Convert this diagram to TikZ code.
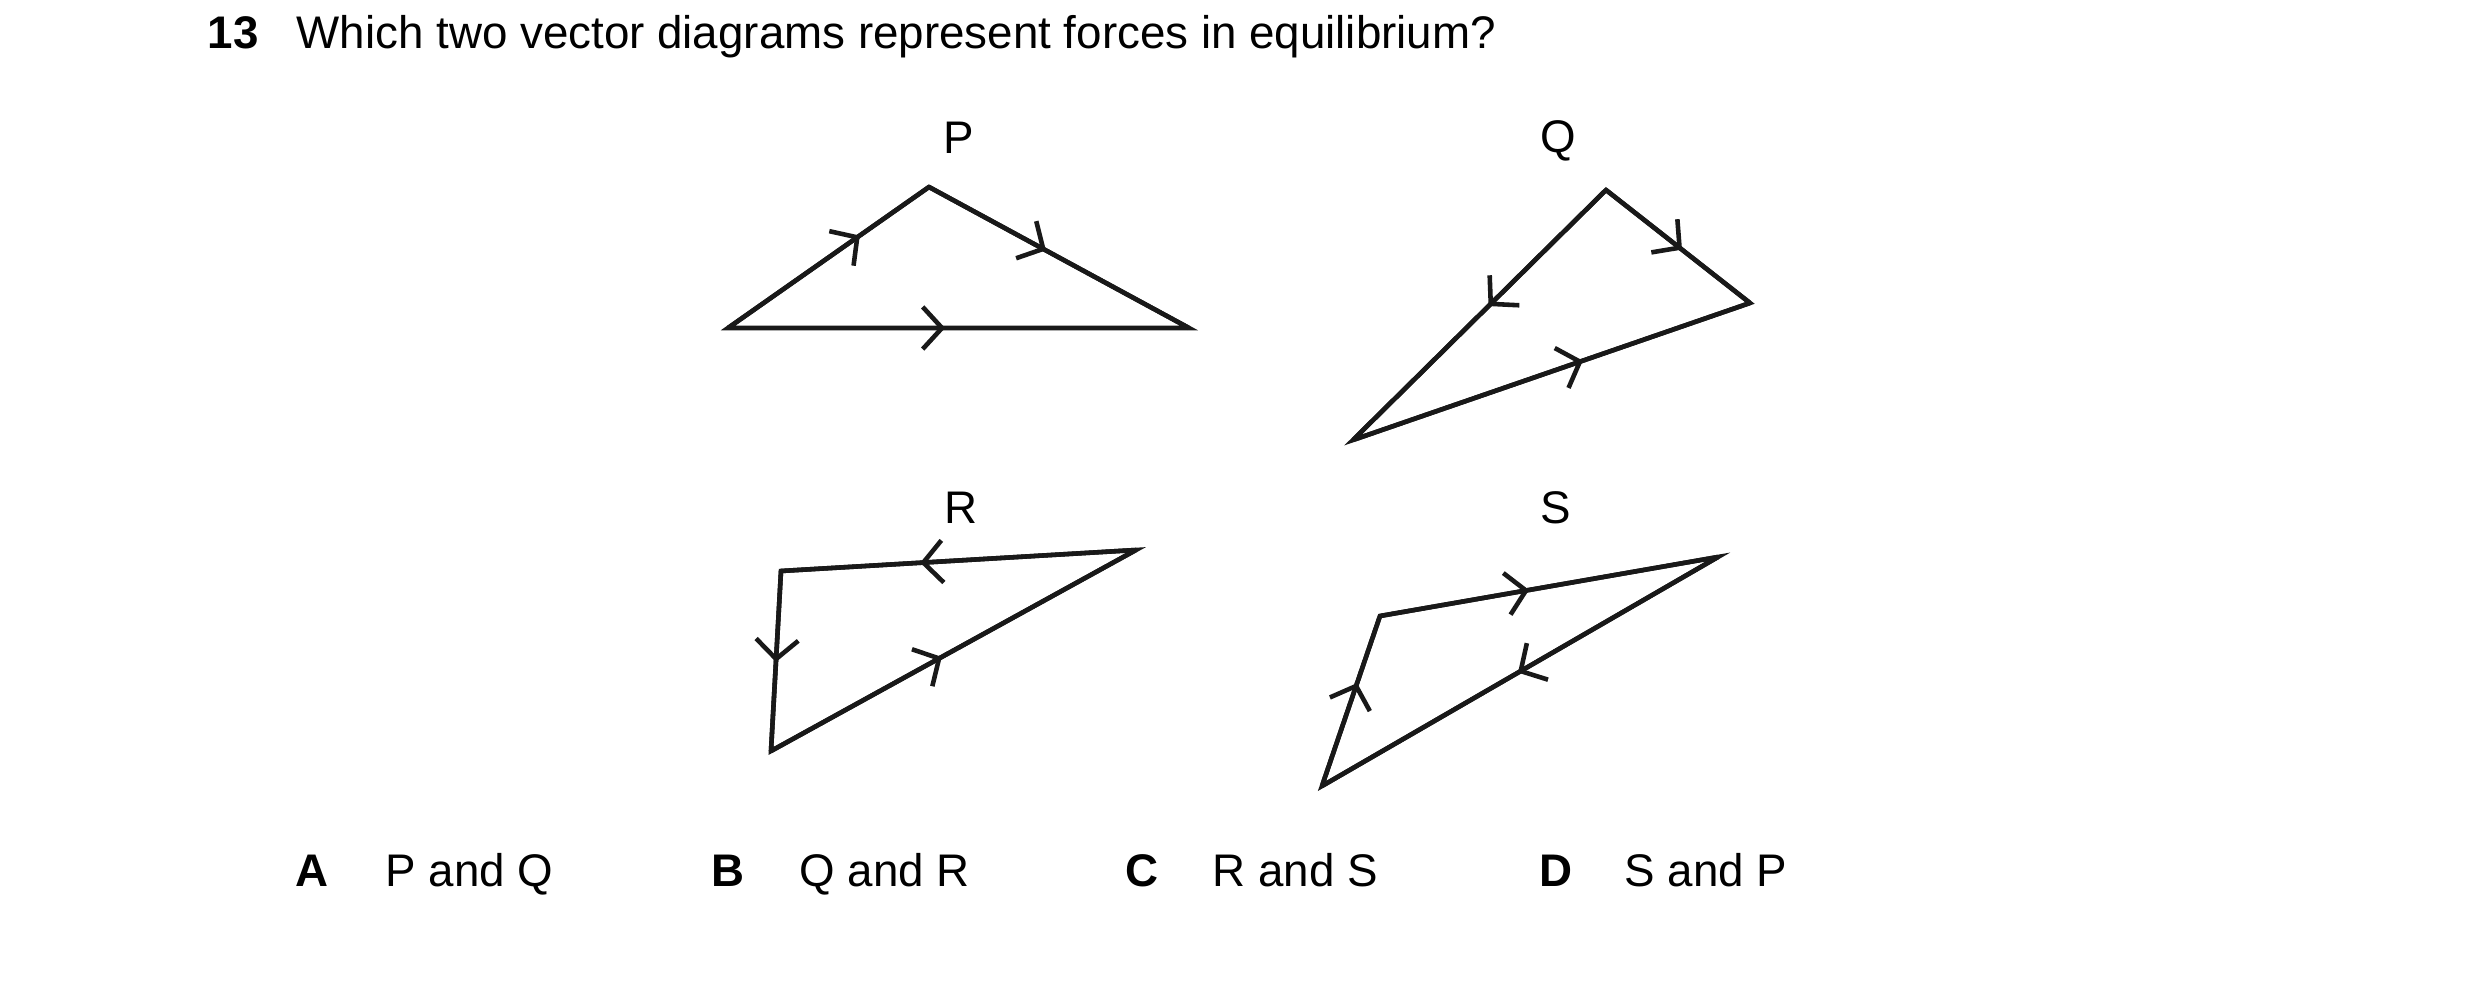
\documentclass[tikz,border=0pt]{standalone}
\usepackage{fontspec}
\setmainfont{Liberation Sans}
\usetikzlibrary{arrows.meta,decorations.markings}
\tikzset{
  edge/.style={line width=1.3pt, line join=miter, draw=black!90},
  vec/.style={decoration={markings, mark=at position #1 with {\arrow{Straight Barb[length=5.5pt,width=12pt]}}}, postaction={decorate}},
  txt/.style={anchor=base west, inner sep=0pt, font=\fontsize{13}{15.6}\selectfont},
  lbl/.style={anchor=base, inner sep=0pt, font=\fontsize{13}{15.6}\selectfont},
}
\begin{document}
\begin{tikzpicture}[x=0.01cm,y=-0.01cm]
\useasboundingbox[fill=white] (0,0) rectangle (2480,994);
% title
\node[txt, font=\fontsize{13}{15.6}\selectfont\bfseries] (num) at (207,49) {13};
\node[txt] (title) at (296,49) {Which two vector diagrams represent forces in equilibrium?};
% P
\coordinate (p1) at (728,328);
\coordinate (p2) at (929,187);
\coordinate (p3) at (1189,328);
\node[lbl] (lp) at (959,154) {P};
\draw[edge] (p1) -- (p2) -- (p3) -- cycle;
\path[edge, vec=0.657] (p1) -- (p2);
\path[edge, vec=0.45] (p2) -- (p3);
\path[edge, vec=0.471] (p1) -- (p3);
% Q
\coordinate (q1) at (1606,190);
\coordinate (q2) at (1750,303);
\coordinate (q3) at (1353,440);
\node[lbl] (lq) at (1558,153) {Q};
\draw[edge] (q1) -- (q2) -- (q3) -- cycle;
\path[edge, vec=0.466] (q1) -- (q3);
\path[edge, vec=0.528] (q1) -- (q2);
\path[edge, vec=0.579] (q3) -- (q2);
% R
\coordinate (r1) at (781,571);
\coordinate (r2) at (1136,550);
\coordinate (r3) at (771,751);
\node[lbl] (lr) at (961,524) {R};
\draw[edge] (r1) -- (r2) -- (r3) -- cycle;
\path[edge, vec=0.608] (r2) -- (r1);
\path[edge, vec=0.506] (r1) -- (r3);
\path[edge, vec=0.468] (r3) -- (r2);
% S
\coordinate (s1) at (1380,616);
\coordinate (s2) at (1718,557);
\coordinate (s3) at (1322,786);
\node[lbl] (ls) at (1556,524) {S};
\draw[edge] (s1) -- (s2) -- (s3) -- cycle;
\path[edge, vec=0.441] (s1) -- (s2);
\path[edge, vec=0.505] (s2) -- (s3);
\path[edge, vec=0.606] (s3) -- (s1);
% answers
\node[txt, font=\fontsize{13}{15.6}\selectfont\bfseries] (a) at (295,886) {A};
\node[txt] (at) at (385,886) {P and Q};
\node[txt, font=\fontsize{13}{15.6}\selectfont\bfseries] (b) at (711,886) {B};
\node[txt] (bt) at (799,886) {Q and R};
\node[txt, font=\fontsize{13}{15.6}\selectfont\bfseries] (c) at (1125,886) {C};
\node[txt] (ct) at (1212,886) {R and S};
\node[txt, font=\fontsize{13}{15.6}\selectfont\bfseries] (d) at (1539,886) {D};
\node[txt] (dt) at (1624,886) {S and P};
\end{tikzpicture}
\end{document}
